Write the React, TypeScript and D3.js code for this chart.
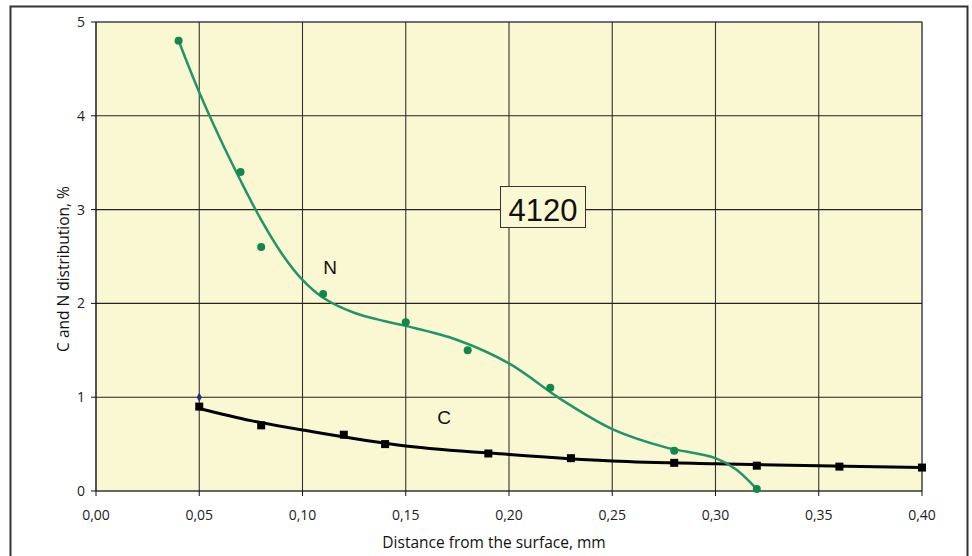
import React from 'react';
import * as d3 from 'd3';

// measured points
const nX = [0.04, 0.07, 0.08, 0.11, 0.15, 0.18, 0.22, 0.28, 0.32];
const nY = [4.8, 3.4, 2.6, 2.1, 1.8, 1.5, 1.1, 0.43, 0.02];
const cX = [0.05, 0.08, 0.12, 0.14, 0.19, 0.23, 0.28, 0.32, 0.36, 0.40];
const cY = [0.9, 0.7, 0.6, 0.5, 0.4, 0.35, 0.3, 0.27, 0.26, 0.25];

// trend lines
const nTrendX = [0.04, 0.05, 0.06, 0.07, 0.08, 0.09, 0.10, 0.11, 0.125, 0.14, 0.15, 0.175, 0.20, 0.225, 0.25, 0.275, 0.30, 0.31, 0.32];
const nTrendY = [4.8, 4.25, 3.76, 3.31, 2.89, 2.53, 2.25, 2.06, 1.9, 1.81, 1.76, 1.61, 1.36, 0.98, 0.66, 0.47, 0.35, 0.23, 0.02];
const cTrendX = [0.05, 0.075, 0.10, 0.15, 0.20, 0.25, 0.30, 0.35, 0.40];
const cTrendY = [0.88, 0.75, 0.65, 0.48, 0.39, 0.32, 0.29, 0.27, 0.25];

const xTicks = [0, 0.05, 0.1, 0.15, 0.2, 0.25, 0.3, 0.35, 0.4];
const yTicks = [0, 1, 2, 3, 4, 5];

const W = 972;
const H = 556;
const font = "'Open Sans', sans-serif";
const arial = "'Liberation Sans', Arial, sans-serif";

export default function App() {
  const x = d3.scaleLinear().domain([0, 0.4]).range([96, 922]);
  const y = d3.scaleLinear().domain([0, 5]).range([491, 22]);

  const line = d3.line<[number, number]>()
    .x(d => x(d[0]))
    .y(d => y(d[1]))
    .curve(d3.curveCatmullRom.alpha(0.5));

  const nTrend = nTrendX.map((v, i) => [v, nTrendY[i]] as [number, number]);
  const cTrend = cTrendX.map((v, i) => [v, cTrendY[i]] as [number, number]);
  const fmt = (v: number) => v.toFixed(2).replace('.', ',');

  return (
    <svg width={W} height={H} style={{ position: 'absolute', left: 0, top: 0 }}>
      <rect x={0} y={0} width={W} height={H} fill="#fff" />
      <rect x={10.5} y={6.5} width={957} height={560} fill="none" stroke="#333" strokeWidth={2} />

      <rect x={96} y={22} width={826} height={469} fill="#faf8d2" stroke="#808080" />

      {xTicks.slice(1).map(t => (
        <line key={'gx' + t} x1={x(t)} x2={x(t)} y1={22} y2={491} stroke="#333" strokeWidth={1.1} />
      ))}
      {yTicks.slice(1).map(t => (
        <line key={'gy' + t} x1={96} x2={922} y1={y(t)} y2={y(t)} stroke="#222" strokeWidth={1.1} />
      ))}

      <line x1={96} x2={96} y1={22} y2={491} stroke="#111" strokeWidth={1.2} />
      <line x1={96} x2={922} y1={491} y2={491} stroke="#111" strokeWidth={1.2} />

      {yTicks.map(t => (
        <g key={'yt' + t}>
          <line x1={91} x2={96} y1={y(t)} y2={y(t)} stroke="#111" />
          <text x={85} y={y(t)} dy="0.36em" textAnchor="end" fontFamily={font} fontSize={14} fill="#222">{t}</text>
        </g>
      ))}
      {xTicks.map(t => (
        <g key={'xt' + t}>
          <line x1={x(t)} x2={x(t)} y1={491} y2={496} stroke="#111" />
          <text x={x(t)} y={520} textAnchor="middle" fontFamily={font} fontSize={14} fill="#222">{fmt(t)}</text>
        </g>
      ))}

      <text x={494} y={548} textAnchor="middle" fontFamily={font} fontSize={15.5} fill="#111">
        Distance from the surface, mm
      </text>
      <text transform="translate(69,269) rotate(-90)" textAnchor="middle" fontFamily={font} fontSize={15.5} fill="#111">
        C and N distribution, %
      </text>

      <path d={line(cTrend) || ''} fill="none" stroke="#000" strokeWidth={3} />
      <path d={line(nTrend) || ''} fill="none" stroke="#22946a" strokeWidth={2.5} />

      {cX.map((v, i) => (
        <rect key={'c' + i} x={x(v) - 4} y={y(cY[i]) - 4} width={8} height={8} fill="#000" />
      ))}
      {nX.map((v, i) => (
        <circle key={'n' + i} cx={x(v)} cy={y(nY[i])} r={4} fill="#12884e" />
      ))}
      <path d={d3.symbol(d3.symbolDiamond, 24)() || ''} transform={`translate(${x(0.05)},${y(1)})`} fill="#2b2b8c" />

      <text x={330} y={274} textAnchor="middle" fontFamily={arial} fontSize={19} fill="#111">N</text>
      <text x={444} y={424} textAnchor="middle" fontFamily={arial} fontSize={19} fill="#111">C</text>

      <rect x={500.5} y={186.5} width={85} height={41} fill="#faf8d2" stroke="#333" />
      <text x={543} y={221} textAnchor="middle" fontFamily={arial} fontSize={31} fill="#111">4120</text>
    </svg>
  );
}
